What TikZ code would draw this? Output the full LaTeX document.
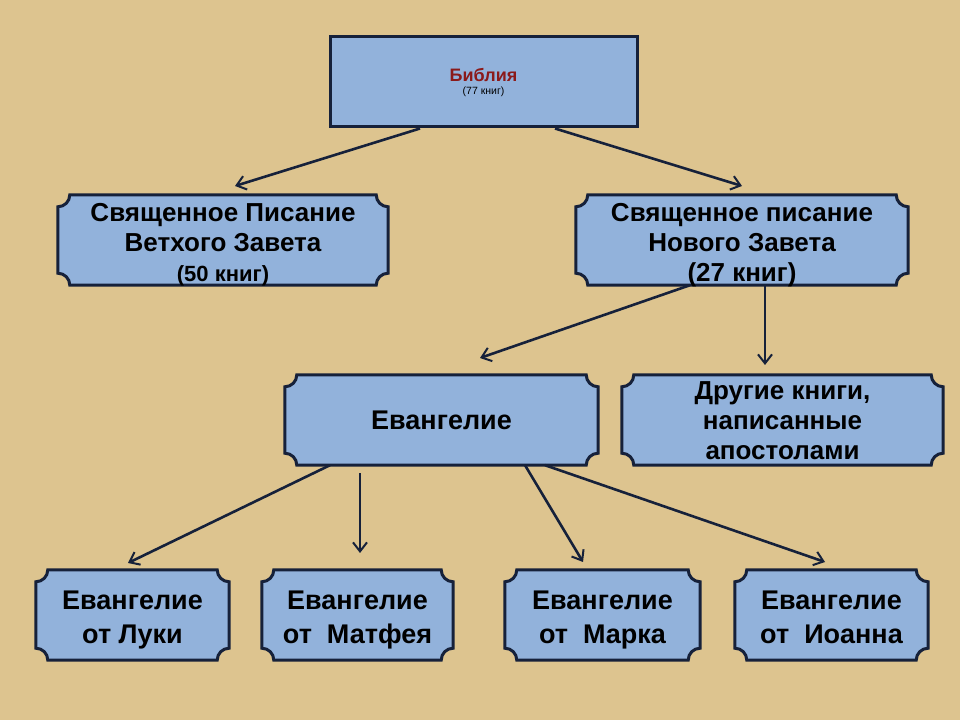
\documentclass[tikz,border=0pt]{standalone}
\usepackage{fontspec}
\setmainfont{Liberation Sans}
\usetikzlibrary{arrows.meta,calc}
\pgfdeclarelayer{paperl}
\pgfdeclarelayer{bg}
\pgfsetlayers{paperl,bg,main}
\definecolor{paper}{HTML}{DDC48F}
\definecolor{boxfill}{HTML}{92B2DB}
\definecolor{boxline}{HTML}{16213A}
\tikzset{
  x=1pt,y=1pt,
  tbox/.style={inner sep=0pt,align=center,font=\bfseries\fontsize{26}{30}\selectfont,text=black},
  conn/.style={line width=2.6pt,draw=boxline,-{Straight Barb[length=9pt,width=14pt,line width=2pt]}}
}
\newcommand\plaq[2]{%
  \begin{pgfonlayer}{bg}
  \path let \p1=(#1.north west), \p2=(#1.south east) in
   [fill=boxfill,draw=boxline,line width=3pt,yshift=#2]
   (\x1+12,\y1) -- (\x2-12,\y1) arc[start angle=180,end angle=270,radius=12]
   -- (\x2,\y2+12) arc[start angle=90,end angle=180,radius=12]
   -- (\x1+12,\y2) arc[start angle=0,end angle=90,radius=12]
   -- (\x1,\y1-12) arc[start angle=270,end angle=360,radius=12] -- cycle;
  \end{pgfonlayer}}
\begin{document}
\begin{tikzpicture}
\begin{pgfonlayer}{paperl}
\fill[paper] (0,0) rectangle (960,720);
\end{pgfonlayer}
\node[draw=boxline,line width=3pt,fill=boxfill,minimum width=307,minimum height=90,align=center,inner sep=0pt] (bib) at (483.5,638)
 {{\bfseries\fontsize{18}{20}\selectfont\color[HTML]{8B1A1A}Библия}\\[1pt]{\fontsize{10.5}{12}\selectfont (77 книг)}};
\node[tbox,minimum width=330,minimum height=90] (ot) at (223,475) {Священное Писание\\Ветхого Завета\\{\fontsize{22}{28}\selectfont(50 книг)}};
\node[tbox,minimum width=332,minimum height=90] (nt) at (742,475) {Священное писание\\Нового Завета\\(27 книг)};
\node[tbox,minimum width=313,minimum height=90,font=\bfseries\fontsize{27}{32}\selectfont] (ev) at (441.5,300) {Евангелие};
\node[tbox,minimum width=321,minimum height=90,font=\bfseries\fontsize{26}{30}\selectfont] (oth) at (782.5,299) {Другие книги,\\написанные\\апостолами};
\tikzset{bot/.style={tbox,minimum height=90,font=\bfseries\fontsize{27}{34}\selectfont}}
\node[bot,minimum width=193] (lk) at (132.5,100) {Евангелие\\от Луки};
\node[bot,minimum width=191] (mt) at (357.5,100) {Евангелие\\от\ \ Матфея};
\node[bot,minimum width=195] (mk) at (602.5,100) {Евангелие\\от\ \ Марка};
\node[bot,minimum width=193] (jn) at (831.5,103) {Евангелие\\от\ \ Иоанна};
\plaq{ot}{5}\plaq{nt}{5}\plaq{ev}{0}\plaq{oth}{1}
\plaq{lk}{5}\plaq{mt}{5}\plaq{mk}{5}\plaq{jn}{2}
\coordinate (e1) at (235,534);
\coordinate (e2) at (742,534);
\coordinate (e3) at (480,362);
\coordinate (e4) at (765,355);
\coordinate (e5) at (128,157);
\coordinate (e6) at (360,167);
\coordinate (e7) at (583,158);
\coordinate (e8) at (825,158);
\draw[conn] ([xshift=-63.5]bib.south) -- (e1);
\draw[conn] ([xshift=71.5]bib.south) -- (e2);
\draw[conn] ([xshift=-52,yshift=5]nt.south) -- (e3);
\draw[conn] ([xshift=23,yshift=5]nt.south) -- (e4);
\draw[conn] ([xshift=-111.5]ev.south) -- (e5);
\draw[conn] ([xshift=-81.5,yshift=-8]ev.south) -- (e6);
\draw[conn] ([xshift=83.5]ev.south) -- (e7);
\draw[conn] ([xshift=103.5]ev.south) -- (e8);
\end{tikzpicture}
\end{document}
